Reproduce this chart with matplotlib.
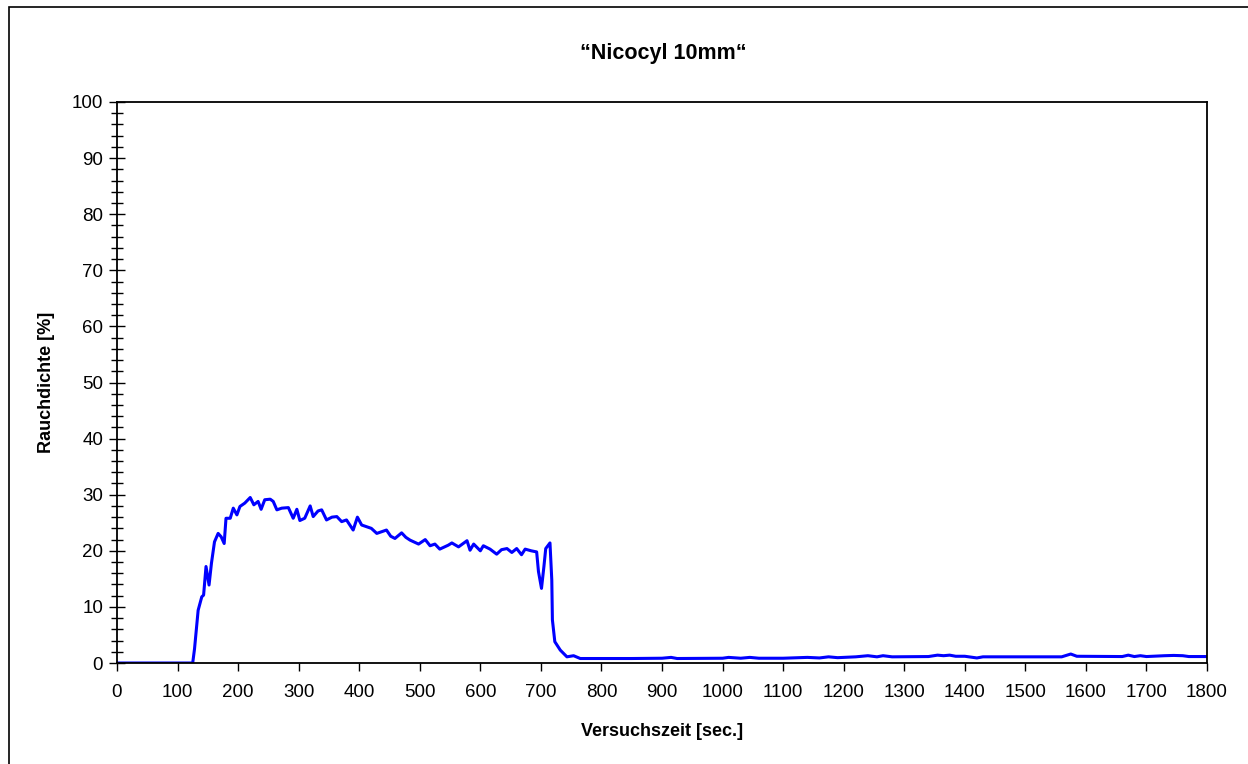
"""Rauchdichte curve for the Nicocyl 10mm test"""

import matplotlib.pyplot as plt
from matplotlib.patches import Rectangle
from matplotlib.ticker import MultipleLocator

plt.rcParams['font.family'] = ['Liberation Sans', 'DejaVu Sans']

title = "\u201cNicocyl 10mm\u201c"
x_label = "Versuchszeit [sec.]"
y_label = "Rauchdichte [%]"

# values (time in seconds, smoke density in %)
time_s = [0, 60, 125, 128, 131, 134, 140, 143, 147, 152, 156, 161, 167, 172, 177,
          180, 187, 192, 198, 203, 211, 220, 226, 233, 238, 244, 253, 258, 264,
          272, 283, 291, 297, 302, 310, 319, 324, 332, 338, 346, 355, 363, 371,
          379, 390, 397, 404, 412, 420, 429, 437, 445, 452, 459, 470, 477, 484,
          498, 509, 517, 525, 533, 547, 553, 564, 578, 583, 589, 600, 605, 616,
          627, 635, 644, 652, 660, 668, 674, 684, 693, 696, 701, 705, 708, 715,
          718, 719, 723, 732, 743, 754, 765, 800, 850, 900, 915, 925, 1000, 1010,
          1030, 1045, 1060, 1100, 1140, 1160, 1175, 1190, 1220, 1240, 1255, 1265,
          1280, 1340, 1355, 1365, 1375, 1385, 1400, 1420, 1430, 1500, 1560, 1575,
          1585, 1660, 1670, 1680, 1690, 1700, 1730, 1745, 1760, 1770, 1800]
density = [0, 0, 0, 2.5, 5.9, 9.4, 11.8, 12.1, 17.2, 13.9, 17.8, 21.6, 23.1, 22.5, 21.3,
           25.8, 25.8, 27.6, 26.4, 27.9, 28.5, 29.5, 28.2, 28.8, 27.4, 29.1, 29.2, 28.8, 27.3,
           27.6, 27.7, 25.8, 27.4, 25.4, 25.8, 28.0, 26.1, 27.1, 27.3, 25.5, 26.0, 26.1, 25.2,
           25.5, 23.7, 26.0, 24.6, 24.3, 24.0, 23.1, 23.4, 23.7, 22.6, 22.2, 23.2, 22.4, 21.9,
           21.2, 22.0, 20.9, 21.2, 20.3, 21.0, 21.4, 20.7, 21.8, 20.1, 21.2, 20.0, 20.9, 20.3,
           19.4, 20.2, 20.4, 19.7, 20.4, 19.3, 20.3, 20.0, 19.8, 16.3, 13.3, 17.2, 20.4, 21.4,
           14.8, 7.7, 3.8, 2.3, 1.1, 1.3, 0.8, 0.8, 0.8, 0.85, 1.0, 0.8, 0.85, 1.0,
           0.85, 1.0, 0.85, 0.85, 1.0, 0.9, 1.1, 0.95, 1.1, 1.3, 1.1, 1.3,
           1.1, 1.15, 1.4, 1.3, 1.4, 1.2, 1.2, 0.9, 1.1, 1.1, 1.1, 1.6,
           1.2, 1.15, 1.4, 1.15, 1.3, 1.15, 1.3, 1.35, 1.3, 1.15, 1.15]

fig = plt.figure(figsize=(12.48, 7.64), dpi=100)
ax = fig.add_axes([117 / 1248, 1 - 663 / 764, 1090 / 1248, 561 / 764])

# outer chart frame (only left/top edges fall inside the picture)
fig.patches.append(Rectangle((9 / 1248, -0.05), 1.1, 1 - 7 / 764 + 0.05,
                             transform=fig.transFigure, fill=False,
                             edgecolor='black', linewidth=1.2))

ax.plot(time_s, density, color='#0000ff', linewidth=2.2, solid_joinstyle='round')

ax.set_xlim(0, 1800)
ax.set_ylim(0, 100)
ax.xaxis.set_major_locator(MultipleLocator(100))
ax.yaxis.set_major_locator(MultipleLocator(10))
ax.yaxis.set_minor_locator(MultipleLocator(2))

ax.tick_params(axis='x', direction='out', length=6, width=1, labelsize=13.5, pad=9)
ax.tick_params(axis='y', which='major', direction='inout', length=12, width=1,
               labelsize=13.5, pad=4)
ax.tick_params(axis='y', which='minor', direction='inout', length=8, width=1)

for spine in ax.spines.values():
    spine.set_linewidth(1.3)

ax.set_xlabel(x_label, fontsize=13, fontweight='bold', labelpad=16)
ax.set_ylabel(y_label, fontsize=13, fontweight='bold', labelpad=12)
fig.text(663 / 1248, 1 - 53 / 764, title, fontsize=15.5, fontweight='bold',
         ha='center', va='center')

fig.savefig("out.png", dpi=100)
